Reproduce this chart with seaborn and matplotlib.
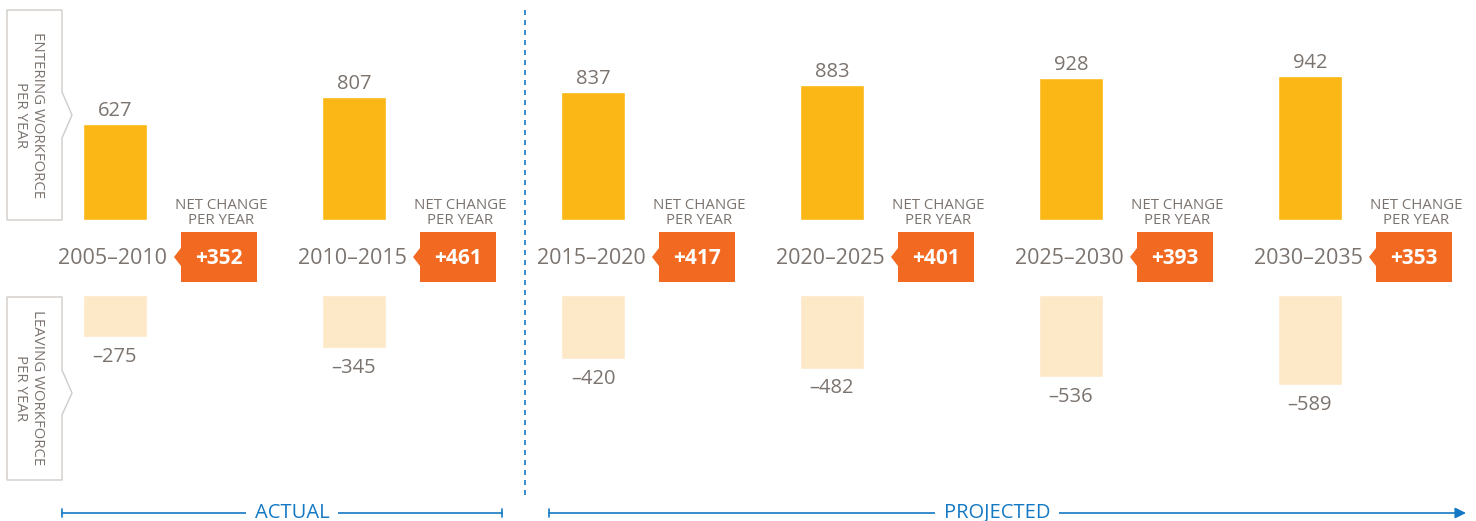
import pandas as pd
import matplotlib.pyplot as plt
from matplotlib.patches import Polygon
import seaborn as sns

# data (thousands per year)
periods = ['2005–2010', '2010–2015', '2015–2020', '2020–2025', '2025–2030', '2030–2035']
entering = [627, 807, 837, 883, 928, 942]
leaving = [-275, -345, -420, -482, -536, -589]
net_change = [352, 461, 417, 401, 393, 353]

gold = '#FBB715'
peach = '#FDE8C8'
orange = '#F26922'
gray = '#7B736E'
blue = '#1479C4'

W, H = 1476, 521
sns.set_theme(style='white')
plt.rcParams['font.family'] = ['Open Sans', 'DejaVu Sans']

fig = plt.figure(figsize=(W / 100, H / 100), dpi=100)

# category axis: bar centres every 239 px, first at x=115 px
x0, x1 = -115 / 239, (W - 115) / 239
upx = (x1 - x0) / W
scale = 0.153  # px per unit of value

df = pd.DataFrame({'period': periods, 'entering': entering, 'leaving': leaving})

ax_up = fig.add_axes([0, (H - 220) / H, 1, 220 / H])
ax_dn = fig.add_axes([0, 0, 1, (H - 295) / H])
sns.barplot(data=df, x='period', y='entering', color=gold, width=0.268,
            saturation=1, ax=ax_up)
sns.barplot(data=df, x='period', y='leaving', color=peach, width=0.268,
            saturation=1, ax=ax_dn)
ax_up.set_xlim(x0, x1)
ax_up.set_ylim(0, 220 / scale)
ax_dn.set_xlim(x0, x1)
ax_dn.set_ylim(-(H - 295) / scale, 0)

ax_up.bar_label(ax_up.containers[0], labels=[str(v) for v in entering],
                padding=2, color=gray, fontsize=14.5)
ax_dn.bar_label(ax_dn.containers[0], labels=['–' + str(-v) for v in leaving],
                padding=7, color=gray, fontsize=14.5)
for ax in (ax_up, ax_dn):
    ax.axis('off')

# overlay axes: x in category units, y in pixels (top-down)
ov = fig.add_axes([0, 0, 1, 1])
ov.set_xlim(x0, x1)
ov.set_ylim(H, 0)
ov.axis('off')
ov.patch.set_alpha(0)


def xu(px):
    return x0 + px * upx


for i, (p, n) in enumerate(zip(periods, net_change)):
    ov.text(i - 2 * upx, 258, p, ha='center', va='center', color=gray, fontsize=15.5)
    cx = i + 104 * upx
    L, R = cx - 38 * upx, cx + 38 * upx
    badge = Polygon([(L, 232), (R, 232), (R, 282), (L, 282), (L, 266),
                     (L - 7 * upx, 257), (L, 248)], closed=True,
                    facecolor=orange, edgecolor='none')
    ov.add_patch(badge)
    ov.text(cx, 258, f'+{n}', ha='center', va='center', color='white',
            fontsize=15, fontweight='bold')
    ov.text(cx + 2 * upx, 213, 'NET CHANGE\nPER YEAR', ha='center', va='center',
            color=gray, fontsize=10.8, linespacing=0.95)

# side label boxes
box_kw = dict(closed=True, facecolor='white', edgecolor='#CFCBC8', linewidth=1)
ov.add_patch(Polygon([(xu(7), 10), (xu(62), 10), (xu(62), 92), (xu(72), 115),
                      (xu(62), 138), (xu(62), 220), (xu(7), 220)], **box_kw))
ov.add_patch(Polygon([(xu(7), 297), (xu(62), 297), (xu(62), 370), (xu(72), 393),
                      (xu(62), 415), (xu(62), 480), (xu(7), 480)], **box_kw))
ov.text(xu(29), 115, 'ENTERING WORKFORCE\nPER YEAR', rotation=270, ha='center',
        va='center', multialignment='center', color=gray, fontsize=10.8,
        linespacing=1.15)
ov.text(xu(29), 388, 'LEAVING WORKFORCE\nPER YEAR', rotation=270, ha='center',
        va='center', multialignment='center', color=gray, fontsize=10.8,
        linespacing=1.15)

# actual / projected divider
ov.plot([xu(525), xu(525)], [10, 500], color=blue, linestyle=(0, (3, 3)), linewidth=1.2)

# bottom timeline
ov.plot([xu(62), xu(502)], [513, 513], color=blue, linewidth=1.2)
ov.plot([xu(62), xu(62)], [509, 517], color=blue, linewidth=1.2)
ov.plot([xu(502), xu(502)], [509, 517], color=blue, linewidth=1.2)
ov.text(xu(292), 513, 'ACTUAL', ha='center', va='center', color=blue, fontsize=14.5,
        bbox=dict(facecolor='white', edgecolor='none', pad=6))

ov.plot([xu(549), xu(549)], [509, 517], color=blue, linewidth=1.2)
ov.annotate('', xy=(xu(1466), 513), xytext=(xu(549), 513),
            arrowprops=dict(arrowstyle='-|>', color=blue, lw=1.2,
                            mutation_scale=16, shrinkA=0, shrinkB=0))
ov.text(xu(997), 513, 'PROJECTED', ha='center', va='center', color=blue, fontsize=14.5,
        bbox=dict(facecolor='white', edgecolor='none', pad=6))

fig.savefig('out.png', dpi=100, facecolor='white')
